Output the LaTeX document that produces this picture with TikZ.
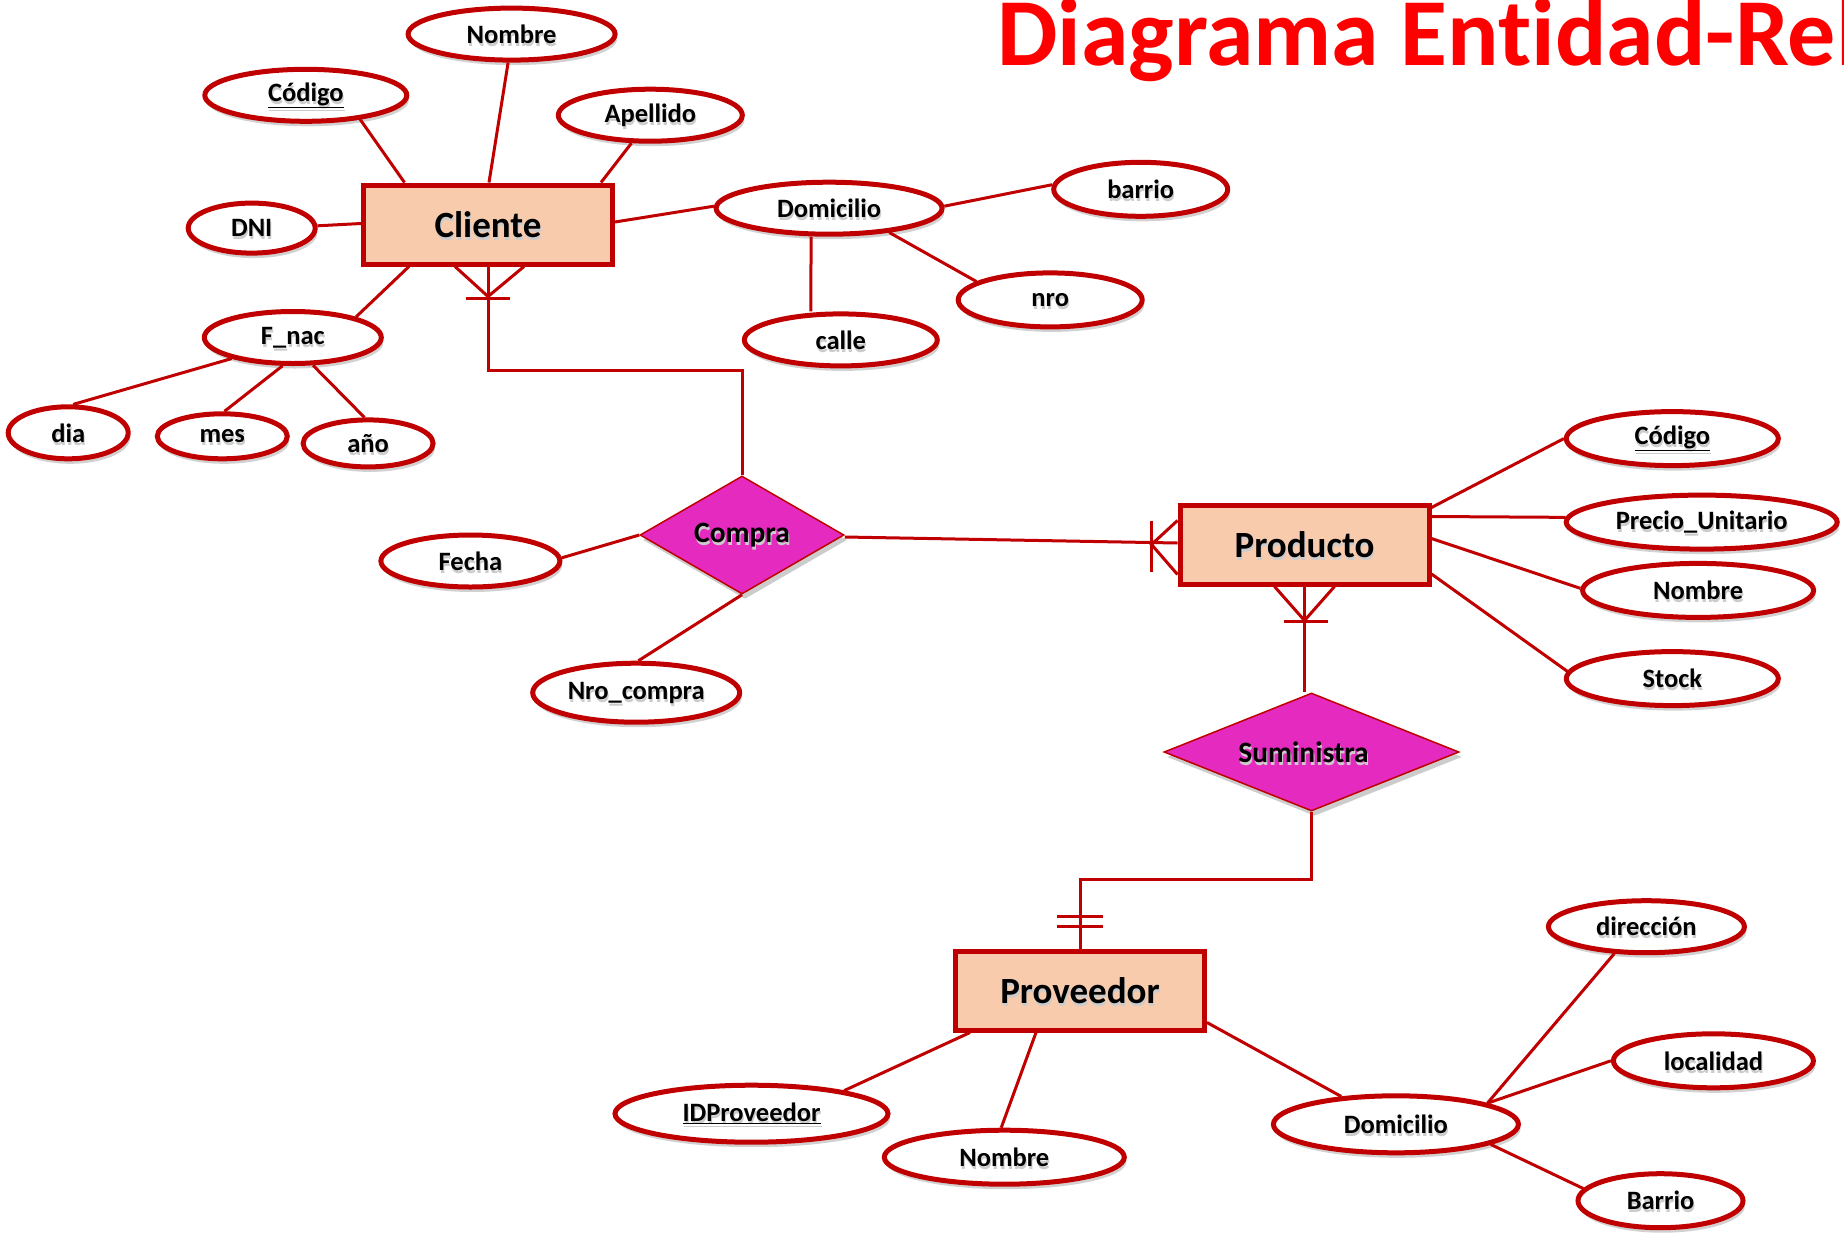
\documentclass[tikz,border=0pt]{standalone}
\usepackage{fontspec}
\setmainfont{Carlito}[Ligatures=NoCommon]
\usetikzlibrary{shapes.geometric,shadows,calc}
\definecolor{erred}{HTML}{C00000}
\definecolor{entfill}{HTML}{F8CBAD}
\definecolor{relfill}{HTML}{E52ABF}
\definecolor{titlered}{HTML}{FF0000}
% label text with a soft grey shadow below it
\newcommand{\shtxt}[1]{\makebox[0pt][l]{\hspace{1pt}\raisebox{-3pt}[0pt][0pt]{\textcolor{black!20}{#1}}}#1}
\tikzset{
  attr/.style 2 args={ellipse, draw=erred, line width=5pt, fill=white,
    inner sep=0pt, minimum width=#1, minimum height=#2,
    font=\bfseries\fontsize{26.5}{30}\selectfont,
    drop shadow={shadow xshift=2pt, shadow yshift=-5pt, fill=black, opacity=0.18}},
  entity/.style={rectangle, draw=erred, line width=5pt, fill=entfill,
    minimum width=249, minimum height=79,
    font=\bfseries\fontsize{37}{40}\selectfont},
  relation/.style 2 args={diamond, draw=erred, line width=1.5pt, fill=relfill,
    inner sep=0pt, aspect=2, minimum width=#1, minimum height=#2,
    font=\bfseries\fontsize{29.5}{32}\selectfont,
    drop shadow={shadow xshift=3pt, shadow yshift=-5pt, fill=black, opacity=0.2}},
  conn/.style={draw=erred, line width=3pt},
}
\begin{document}
\begin{tikzpicture}[x=1pt, y=-1pt]
\useasboundingbox (0,0) rectangle (1844,1240);
\clip (0,0) rectangle (1844,1240);

% title
\node[anchor=base west, inner sep=0pt, text=titlered,
      font=\bfseries\fontsize{96}{100}\selectfont] (title) at (997,65) {Diagrama Entidad-Rel};

% entities
\node[entity] (cliente)   at (488,224.5)  {\shtxt{Cliente}};
\node[entity] (producto)  at (1304.5,544.5) {\shtxt{Producto}};
\node[entity] (proveedor) at (1080,990.5) {\shtxt{Proveedor}};

% relationships
\node[relation={204}{118}] (compra)     at (742,535)    {\shtxt{Compra}};
\node[relation={295}{118}] (suministra) at (1311.5,752) {\hspace*{-16pt}\shtxt{Suministra}};

% attributes of Cliente
\node[attr={207}{52}]   (nom1)  at (511.6,34.1)  {\shtxt{Nombre}};
\node[attr={202}{52}]   (cod1)  at (305.8,95.3)  {\shtxt{\underline{Código}}};
\node[attr={184}{52}]   (ape)   at (650.3,115.2) {\shtxt{Apellido}};
\node[attr={127}{50}]   (dni)   at (251.7,228.1) {\shtxt{DNI}};
\node[attr={226}{52}]   (dom1)  at (829.1,208.2) {\shtxt{Domicilio}};
\node[attr={174}{54}]   (barrio) at (1140.7,189.3) {\shtxt{barrio}};
\node[attr={184}{54}]   (nro)   at (1050.2,299.9) {\shtxt{nro}};
\node[attr={193}{52}]   (calle) at (840.8,339.9) {\shtxt{calle}};
\node[attr={177}{52}]   (fnac)  at (292.8,337.5) {\shtxt{F\_nac}};
\node[attr={120}{52}]   (dia)   at (68.2,432.8)  {\shtxt{dia}};
\node[attr={130}{45}]   (mes)   at (222.3,436.3) {\shtxt{mes}};
\node[attr={130}{47}]   (anio)  at (368.1,443.4) {\shtxt{año}};

% attributes of Compra
\node[attr={179}{52}]   (fecha)     at (470.4,561)   {\shtxt{Fecha}};
\node[attr={207}{59}]   (nrocompra) at (636.2,692.7) {\shtxt{Nro\_compra}};

% attributes of Producto
\node[attr={212}{54}]   (cod2)   at (1672.3,438.6) {\shtxt{\underline{Código}}};
\node[attr={271}{54}]   (precio) at (1701.7,522.1) {\shtxt{Precio\_Unitario}};
\node[attr={231}{54}]   (nom2)   at (1698.1,590.4) {\shtxt{Nombre}};
\node[attr={212}{54}]   (stock)  at (1672.3,678.6) {\shtxt{Stock}};

% attributes of Proveedor
\node[attr={273}{57}]   (idprov)  at (751.5,1113.7)  {\shtxt{\underline{IDProveedor}}};
\node[attr={240}{54}]   (nom3)    at (1004.3,1157.2) {\shtxt{Nombre}};
\node[attr={245}{57}]   (dom2)    at (1395.9,1124.3) {\shtxt{Domicilio}};
\node[attr={196}{52}]   (direc)   at (1646.4,926.7)  {\shtxt{dirección}};
\node[attr={200}{54}]   (local)   at (1713.4,1060.8) {\shtxt{localidad}};
\node[attr={165}{54}]   (barrio2) at (1660.5,1200.7) {\shtxt{Barrio}};

% Cliente connectors
\draw[conn] (cod1.-24) -- ([xshift=43.5]cliente.north west);
\draw[conn] (nom1.-97) -- ([xshift=1]cliente.north);
\draw[conn] (ape.-124) -- ([xshift=-14]cliente.north east);
\draw[conn] (dni.2) -- ([yshift=1]cliente.west);
\draw[conn] ([yshift=2.5]cliente.east) -- (dom1.179);
\draw[conn] (dom1.1) -- (barrio.177);
\draw[conn] (dom1.-22) -- (nro.166);
\draw[conn] ([xshift=-18]dom1.south) -- ([xshift=-30]calle.north);
\draw[conn] ([xshift=48]cliente.south west) -- (fnac.18);
\draw[conn] (fnac.-161) -- (dia.80);
\draw[conn] (fnac.-110) -- (mes.85);
\draw[conn] (fnac.-54) -- (anio.98);

% Cliente -- Compra (one or many at Cliente)
\coordinate (kneeA) at (488,370.4);
\draw[conn] (cliente.south) -- (cliente.south |- kneeA) -- (compra.north |- kneeA) -- (compra.north);
\draw[conn] ([xshift=-33]cliente.south) -- ([yshift=-30]cliente.south) -- ([xshift=36]cliente.south);
\draw[conn] ([xshift=-22,yshift=-32]cliente.south) -- ([xshift=22,yshift=-32]cliente.south);

% Compra attributes
\draw[conn] (compra.west) -- (fecha.2);
\draw[conn] (compra.south) -- (nrocompra.86);

% Compra -- Producto (one or many at Producto)
\draw[conn] ([yshift=-2]compra.east) -- ([yshift=1.5]producto.west);
\draw[conn] ([yshift=24]producto.west) -- ([xshift=-26]producto.west) -- ([yshift=-30]producto.west);
\draw[conn] ([xshift=-26,yshift=24]producto.west) -- ([xshift=-26,yshift=-27]producto.west);

% Producto attributes
\draw[conn] ([yshift=-5]producto.north east) -- (cod2.west);
\draw[conn] ([yshift=-14]producto.north east) -- (precio.178);
\draw[conn] ([yshift=6]producto.east) -- (nom2.179);
\draw[conn] ([yshift=-29.5]producto.east) -- (stock.176);

% Producto -- Suministra (one or many at Producto)
\draw[conn] (producto.south) -- (producto.south |- suministra.north);
\draw[conn] ([xshift=-30]producto.south) -- ([yshift=-34]producto.south) -- ([xshift=30]producto.south);
\draw[conn] ([xshift=-21,yshift=-35]producto.south) -- ([xshift=23,yshift=-35]producto.south);

% Suministra -- Proveedor (exactly one at Proveedor)
\coordinate (kneeB) at (1311.5,879);
\draw[conn] (suministra.south) -- (suministra.south |- kneeB) -- (proveedor.north |- kneeB) -- (proveedor.north);
\draw[conn] ([xshift=-23,yshift=32]proveedor.north) -- ([xshift=23,yshift=32]proveedor.north);
\draw[conn] ([xshift=-23,yshift=22]proveedor.north) -- ([xshift=23,yshift=22]proveedor.north);

% Proveedor attributes
\draw[conn] ([xshift=17]proveedor.south west) -- (idprov.14);
\draw[conn] ([xshift=83]proveedor.south west) -- (nom3.96);
\draw[conn] ([yshift=10]proveedor.south east) -- (dom2.153);
\draw[conn] (dom2.13) -- (direc.-140);
\draw[conn] (dom2.13) -- (local.west);
\draw[conn] (dom2.-12.5) -- (barrio2.171);
\end{tikzpicture}
\end{document}
